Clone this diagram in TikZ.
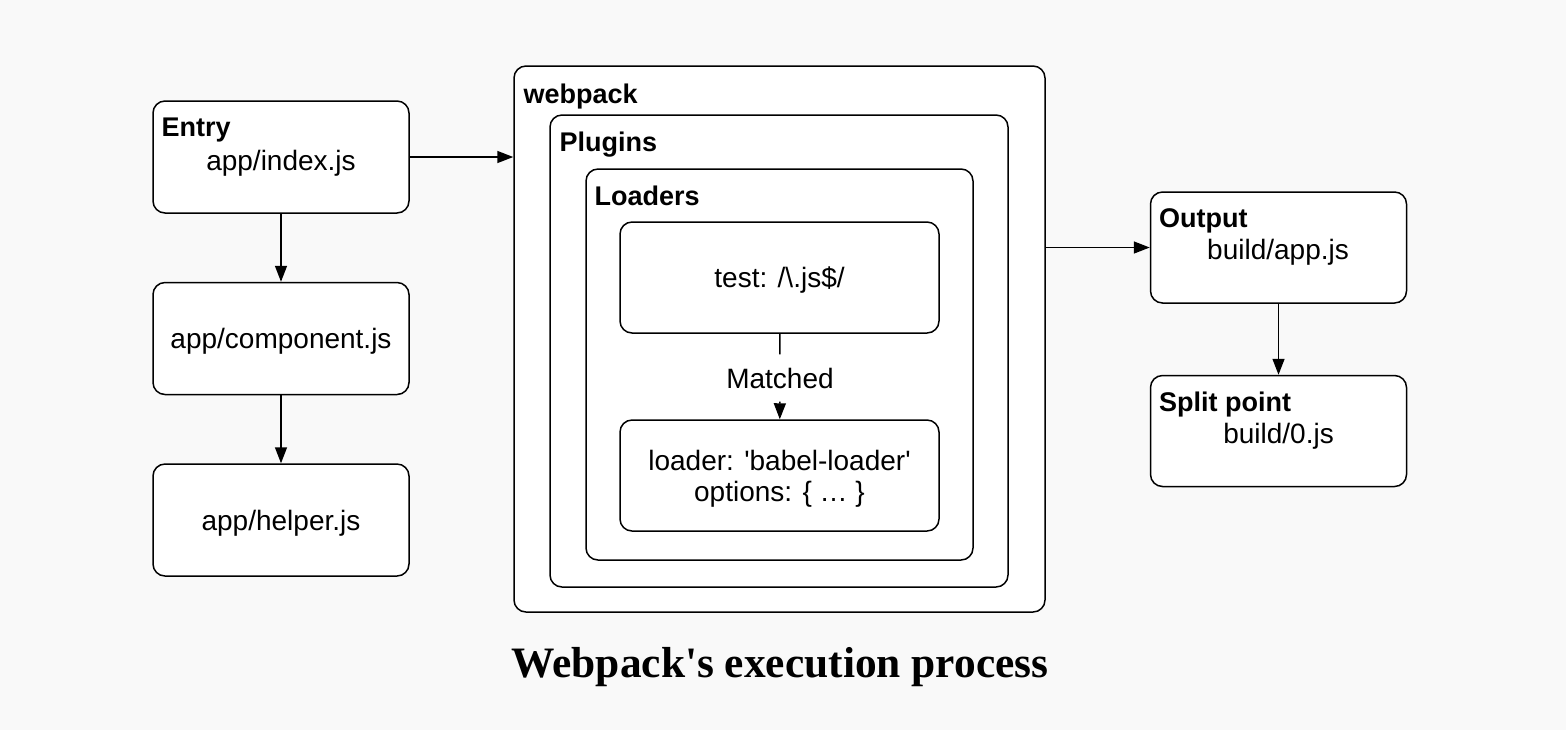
\documentclass[tikz,border=0pt]{standalone}
\usepackage{fontspec}
\setmainfont{Liberation Sans}[Ligatures=TeXOff]
\newfontfamily\capfont{Liberation Serif}[Ligatures=TeXOff]
\usetikzlibrary{arrows.meta, positioning}
\definecolor{pagebg}{HTML}{F9F9F9}
\tikzset{
    box/.style={draw,fill=white,rounded corners=6pt,line width=0.75pt,
        minimum width=128pt,minimum height=56pt,inner sep=0pt,align=center,text depth=0pt},
    ttl/.style={font=\fontsize{13.5}{15.5}\selectfont\bfseries,inner sep=0pt},
    tt/.style={inner sep=0pt},
    flow/.style={
        every edge/.style={draw,line width=0.75pt,-{Triangle[length=8pt,width=6pt]}},
    }
}

\begin{document}
\begin{tikzpicture}[x=0.5pt,y=-0.5pt,font=\fontsize{14}{15.5}\selectfont,flow]
\fill[pagebg] (0,0) rectangle (1566,730);
% left column
\node[box] (entry) at (281,157) {};
\node[ttl,below right=8.5pt and 4.5pt of entry.north west] (entryT) {Entry};
\node[tt] (entryF) at (281,163) {app/index.js};
\node[box] (comp) at (281,338.5) {app/component.js};
\node[box] (helper) at (281,520) {app/helper.js};
% webpack nested boxes
\node[box,minimum width=265.5pt,minimum height=273pt] (webpack) at (779.5,339) {};
\node[ttl,below right=9pt and 5pt of webpack.north west] (webpackT) {webpack};
\node[box,minimum width=229pt,minimum height=236pt] (plugins) at (779,351) {};
\node[ttl,below right=8.5pt and 5pt of plugins.north west] (pluginsT) {Plugins};
\node[box,minimum width=193.5pt,minimum height=195.5pt] (loaders) at (779.5,364.5) {};
\node[ttl,below right=8.5pt and 4.5pt of loaders.north west] (loadersT) {Loaders};
\node[box,minimum width=159.5pt,minimum height=55.5pt] (test) at (779.5,277.5) {test: /\textbackslash.js\$/};
\node[box,minimum width=159.5pt,minimum height=55.5pt] (loader) at (779.5,475.5) {loader: 'babel-loader'\\options: \{ … \}};
\node[tt,inner ysep=6.5pt] (match) at (780,378) {Matched};
% right column
\node[box,minimum height=55.5pt] (output) at (1278.5,247.5) {};
\node[ttl,below right=8.5pt and 4.5pt of output.north west] (outputT) {Output};
\node[tt] (outputF) at (1278,252) {build/app.js};
\node[box,minimum height=55.5pt] (split) at (1278.5,431) {};
\node[ttl,below right=8.5pt and 4.5pt of split.north west] (splitT) {Split point};
\node[tt] (splitF) at (1278.5,436) {build/0.js};
% caption
\node[tt,font=\capfont\bfseries\fontsize{21.7}{26}\selectfont] (caption) at (780,667) {Webpack's execution process};
\path
    (entry) edge (comp)
    (comp) edge (helper)
    (entry.east) edge (entry.east -| webpack.west)
    (output.west -| webpack.east) edge (output.west)
    (output) edge (split)
    (test) edge[-] (match)
    (match) edge (loader)
;
\end{tikzpicture}
\end{document}
